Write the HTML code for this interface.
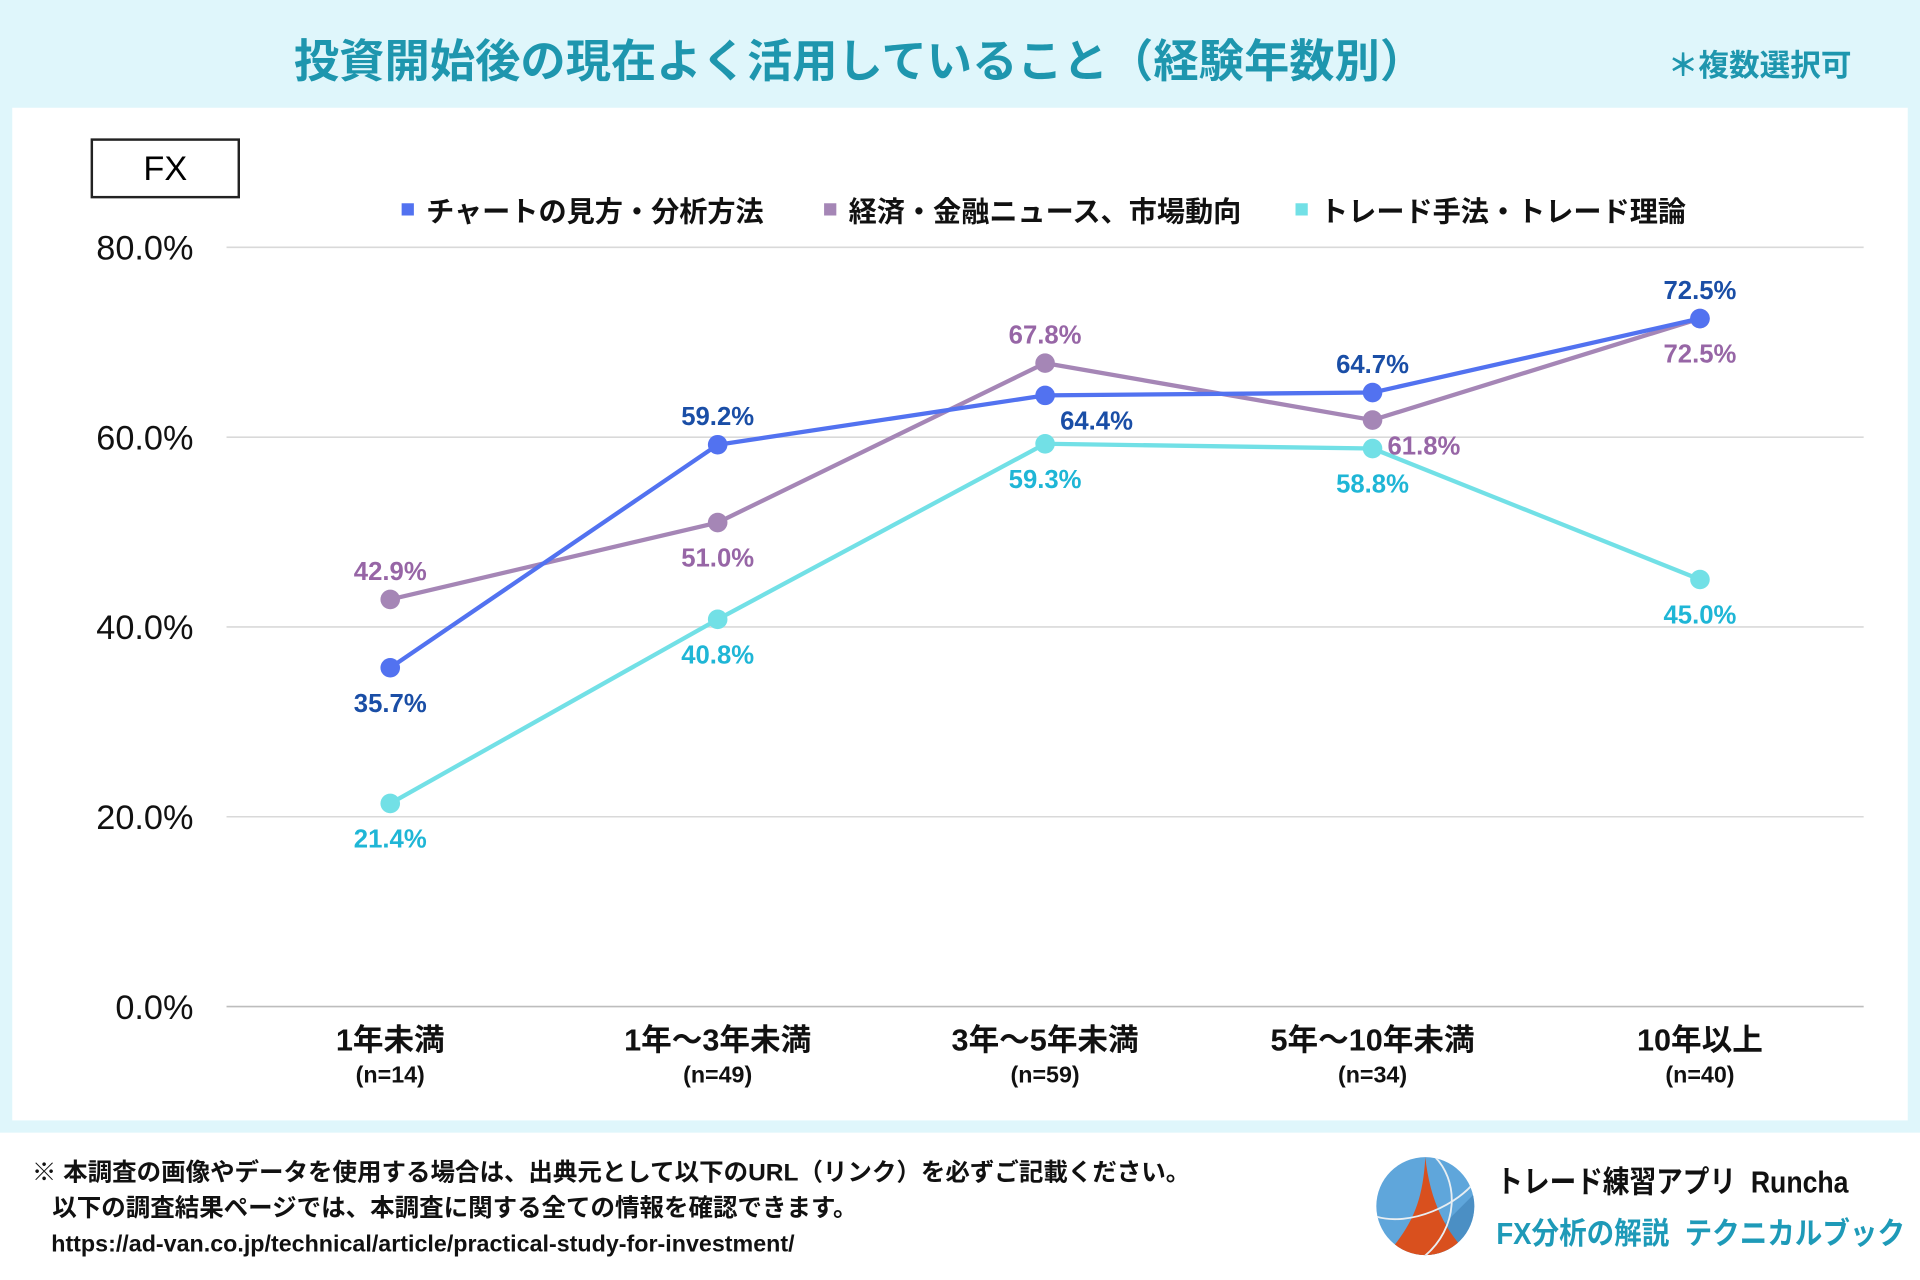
<!DOCTYPE html>
<html><head><meta charset="utf-8"><style>
html,body{margin:0;padding:0;width:1920px;height:1280px;overflow:hidden;background:#fff}
#wrap{position:absolute;left:0;top:0;width:1568px;height:1045px;transform:scale(1.22449);transform-origin:0 0;font-family:"Liberation Sans","Noto Sans CJK JP",sans-serif}
</style></head><body>
<div id="wrap">
<div style="position:absolute;left:0;top:0;width:1568px;height:925px;background:#dff6fb"></div>
<div style="position:absolute;left:240px;top:20px;font-size:37px;font-weight:bold;color:#1e96ae;white-space:nowrap">投資開始後の現在よく活用していること（経験年数別）</div>
<div style="position:absolute;left:1362px;top:34px;font-size:25px;font-weight:bold;color:#1e96ae;white-space:nowrap">＊複数選択可</div>
<div style="position:absolute;left:10px;top:88px;width:1548px;height:827px;background:#fff"></div>
<div style="position:absolute;left:74px;top:113px;width:118px;height:45px;border:2px solid #222;background:#fff;text-align:center;line-height:45px;font-size:28px">FX</div>
<svg id="chart" width="1568" height="925" style="position:absolute;left:0;top:0"></svg>
<div style="position:absolute;left:26px;top:944px;font-size:20px;font-weight:bold;color:#111;line-height:29px;white-space:nowrap">※ 本調査の画像やデータを使用する場合は、出典元として以下のURL（リンク）を必ずご記載ください。<br>&nbsp;&nbsp;&nbsp;以下の調査結果ページでは、本調査に関する全ての情報を確認できます。<br><span style="font-size:19px">&nbsp;&nbsp;&nbsp;https://ad-van.co.jp/technical/article/practical-study-for-investment/</span></div>
<svg width="84" height="84" style="position:absolute;left:1122px;top:943px" viewBox="0 0 84 84">
<defs><clipPath id="c"><circle cx="42" cy="42" r="40"/></clipPath></defs>
<circle cx="42" cy="42" r="40" fill="#5fa6db"/>
<g clip-path="url(#c)"><polygon points="84,30 84,84 30,84" fill="#4b8fc4"/>
<path d="M42,2 C40,40 30,60 8,84 L80,84 C60,65 46,40 42,2Z" fill="#d9501e"/>
<path d="M48,0 C70,20 70,60 40,84" stroke="#e8eef2" stroke-width="1.5" fill="none"/>
<path d="M0,50 C30,60 70,40 84,20" stroke="#e8eef2" stroke-width="1.5" fill="none"/></g></svg>
<div style="position:absolute;left:1222px;top:946px;font-size:25px;font-weight:bold;color:#111;white-space:nowrap;transform:scaleX(0.87);transform-origin:0 0">トレード練習アプリ&nbsp; Runcha</div>
<div style="position:absolute;left:1222px;top:988px;font-size:25px;font-weight:bold;color:#1e9ab8;white-space:nowrap;transform:scaleX(0.9);transform-origin:0 0">FX分析の解説&nbsp; テクニカルブック</div>
</div>
<script>
const categories=["1年未満","1年～3年未満","3年～5年未満","5年～10年未満","10年以上"];
const sampleSizes=["(n=14)","(n=49)","(n=59)","(n=34)","(n=40)"];
const seriesNames=["チャートの見方・分析方法","経済・金融ニュース、市場動向","トレード手法・トレード理論"];
const chartValues=[35.7,59.2,64.4,64.7,72.5];
const newsValues=[42.9,51.0,67.8,61.8,72.5];
const tradeValues=[21.4,40.8,59.3,58.8,45.0];
const yTicks=[0,20,40,60,80];
const chartLabelPos=["below","above","belowright","above","above"];
const newsLabelPos=["above","below","above","belowright","below"];
const tradeLabelPos=["below","below","below","below","below"];

const svg=document.getElementById('chart');
const NS="http://www.w3.org/2000/svg";
const x0=185,x1=1522,yBase=822,yTop=202;
function xs(i){return x0+(x1-x0)*(i+0.5)/categories.length;}
function ys(v){return yBase-(v/80)*(yBase-yTop);}
function mk(t,a,txt){const e=document.createElementNS(NS,t);for(const k in a)e.setAttribute(k,a[k]);if(txt!==undefined)e.textContent=txt;svg.appendChild(e);return e;}

yTicks.forEach(t=>{
  const g=mk('line',{x1:x0,x2:x1,y1:ys(t),y2:ys(t),stroke:t===0?'#bdbdbd':'#d9d9d9','stroke-width':1.3});
  
  
  const l=mk('text',{x:158,y:ys(t)+10,'text-anchor':'end','font-size':28,fill:'#111','font-family':'Liberation Sans, sans-serif'},t.toFixed(1)+'%');
  
  
});
categories.forEach((c,i)=>{
  const t=mk('text',{x:xs(i),y:858,'text-anchor':'middle','font-size':25,'font-weight':'bold',fill:'#111'},c);
  
  
  const n=mk('text',{x:xs(i),y:884,'text-anchor':'middle','font-size':19,'font-weight':'bold',fill:'#111'},sampleSizes[i]);
  
  
});
const series=[
 {vals:chartValues,pos:chartLabelPos,line:'#5272f0',lab:'#1a4ea6',name:'chart-analysis'},
 {vals:newsValues,pos:newsLabelPos,line:'#a586b6',lab:'#9766a6',name:'economic-news'},
 {vals:tradeValues,pos:tradeLabelPos,line:'#72e0e6',lab:'#1fb6d6',name:'trade-method'}];
[1,2,0].forEach(si=>{
  const s=series[si];
  const p=mk('polyline',{points:s.vals.map((v,i)=>xs(i)+','+ys(v)).join(' '),fill:'none',stroke:s.line,'stroke-width':3.5});
  
  
  s.vals.forEach((v,i)=>{
    const c=mk('circle',{cx:xs(i),cy:ys(v),r:8,fill:s.line});
    
    
  });
});
series.forEach(s=>{
  s.vals.forEach((v,i)=>{
    let x=xs(i),y=ys(v);
    const ps=s.pos[i];
    if(ps==='above')y-=16;else if(ps==='below')y+=36;else{x+=42;y+=28;}
    const t=mk('text',{x:x,y:y,'text-anchor':'middle','font-size':21,'font-weight':'bold',fill:s.lab},v.toFixed(1)+'%');
    
    
  });
});
const legX=[328,673,1058];
seriesNames.forEach((n,i)=>{
  const r=mk('rect',{x:legX[i],y:166,width:10,height:10,fill:series[i].line});
  
  
  const t=mk('text',{x:legX[i]+20,y:181,'font-size':23,'font-weight':'bold',fill:'#111'},n);
  
  
});
</script>
</body></html>
